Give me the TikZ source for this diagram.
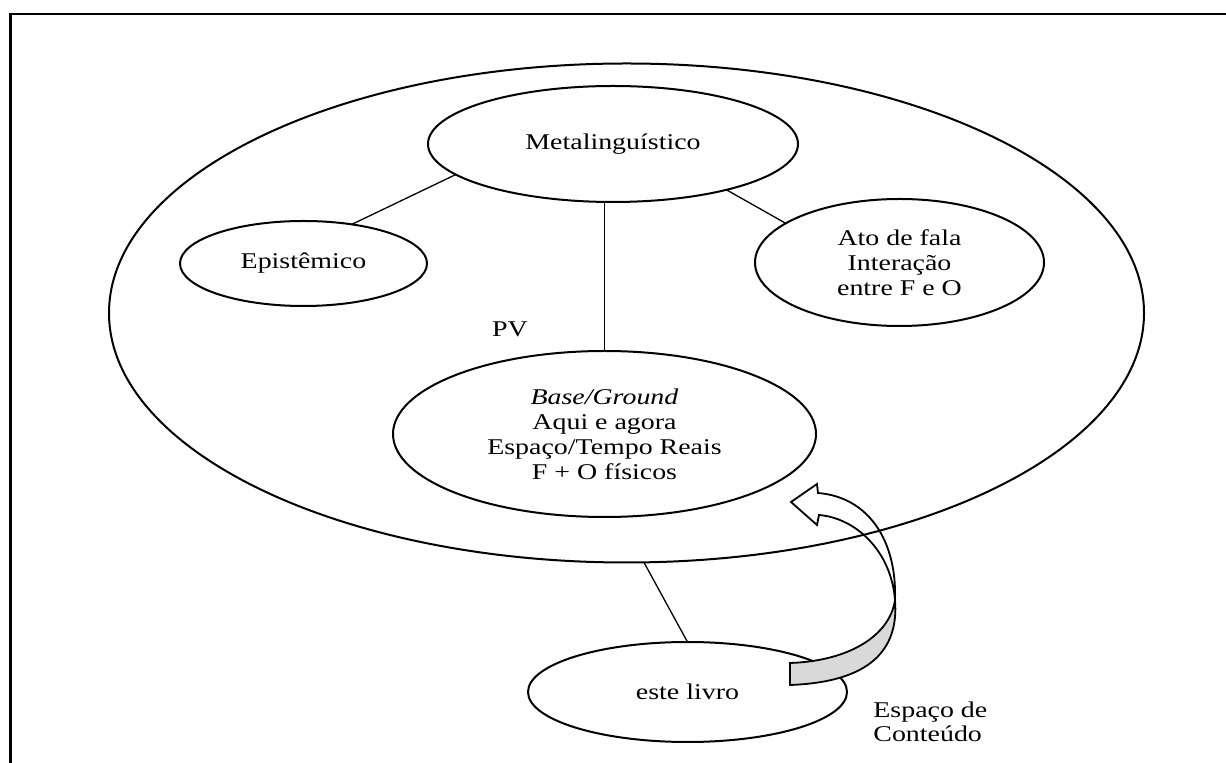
\documentclass[tikz,border=0pt]{standalone}
\usepackage{fontspec}
\setmainfont{Liberation Serif}[FakeStretch=1.24]
\usetikzlibrary{shapes.geometric}
\definecolor{bandgray}{HTML}{D9D9D9}
\tikzset{
  oval/.style={ellipse, draw, line width=1pt, inner sep=0pt, outer sep=0pt,
    align=center, font=\fontsize{11.25}{12.5}\selectfont},
  link/.style={line width=0.65pt},
  plain text/.style={inner sep=0pt, align=left, font=\fontsize{11.25}{12}\selectfont},
  frame line/.style={line width=1.2pt},
  arrow body/.style={draw, line width=0.9pt, line join=miter}
}
\begin{document}
\begin{tikzpicture}[x=0.5pt, y=-0.5pt]
\useasboundingbox[fill=white] (0,0) rectangle (1226,763);

% page frame (top and left edges)
\draw[frame line] (1226,14) -- (10.5,14) -- (10.5,763);

% outer space
\node[oval, minimum width=517.5pt, minimum height=249.5pt] (big) at (626.5,313) {};

% inner spaces
\node[oval, minimum width=185pt, minimum height=58pt] (meta) at (613,144) {Metalinguístico};
\node[oval, minimum width=123.5pt, minimum height=42.5pt] (epi) at (303.5,263.5) {Epistêmico};
\node[oval, minimum width=144.5pt, minimum height=63.5pt] (ato) at (899.5,262.5)
  {Ato de fala\\Interação\\entre F e O};
\node[oval, minimum width=211.5pt, minimum height=83pt] (base) at (604.5,434)
  {\textit{Base/Ground}\\Aqui e agora\\Espaço/Tempo Reais\\F + O físicos};
\node[oval, minimum width=159.5pt, minimum height=50pt] (livro) at (687.5,692) {este livro};

% labels
\node[plain text] (pv) at (510,329) {PV};
\node[plain text, anchor=west] (conteudo) at (873,722) {Espaço de\\Conteúdo};

% connectors
\draw[link] (meta.191) -- (epi.39);
\draw[link] (meta.338.5) -- (ato.161.3);
\draw[link] (base.north) -- (base.north |- meta.south);
\draw[link] (big.274.25) -- (livro.north);

% curved block arrow from the content space back to the base:
% open upper part with the head, shaded lower band ending in the tail
\draw[arrow body]
  (791,502) -- (817,484) -- (818,493)
  .. controls (868,497) and (897,540) .. (895,600)
  .. controls (891,550) and (855,518) .. (819,515)
  -- (817,525) -- cycle;
\draw[arrow body, fill=bandgray]
  (895,600) .. controls (899,650) and (870,682) .. (790,685)
  -- (790,663)
  .. controls (850,661) and (890,635) .. (895,600) -- cycle;
\end{tikzpicture}
\end{document}
